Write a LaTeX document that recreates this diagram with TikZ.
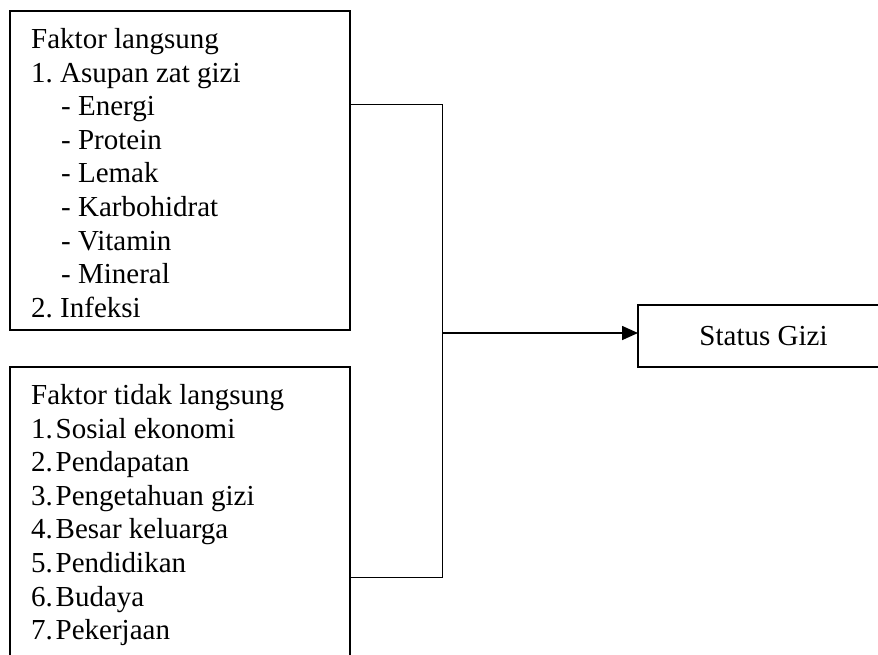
\documentclass[tikz,border=0pt]{standalone}
\usepackage{fontspec}
\setmainfont{Liberation Serif}
\usetikzlibrary{arrows.meta}
\tikzset{
	box/.style={draw,black,line width=1.8pt,inner sep=0pt,outer sep=0pt},
	txt/.style={inner sep=0pt,align=left,font=\fontsize{29}{33.6}\selectfont},
	edge/.style={draw,black,line width=.9pt},
	aedge/.style={draw,black,line width=1.6pt,-{Triangle[length=16pt,width=14pt]}}
}
\newcommand{\ind}{\hspace*{30pt}}
\newcommand{\num}[1]{\makebox[24.5pt][l]{#1}}

\begin{document}
\begin{tikzpicture}[x = {(1pt,0pt)},
                    y = {(0pt,-1pt)}]

\useasboundingbox[fill=white] (0,0) rectangle (878,654);

\coordinate (jt) at (442,104);
\coordinate (jm) at (442,333);
\coordinate (jb) at (442,577);

\node[box,anchor=north west,minimum width=340pt,minimum height=319pt] (fl) at (10,11) {};
\node[box,anchor=north west,minimum width=340pt,minimum height=330pt] (ftl) at (10,367) {};
\node[box,minimum width=251pt,minimum height=62pt] (sg) at (763.5,336) {};

\node[txt,anchor=north west] (fltext) at (31,28.2) {Faktor langsung\\
1.~Asupan zat gizi\\
\ind- Energi\\
\ind- Protein\\
\ind- Lemak\\
\ind- Karbohidrat\\
\ind- Vitamin\\
\ind- Mineral\\
2.~Infeksi};

\node[txt,anchor=north west] (ftltext) at (31,384.2) {Faktor tidak langsung\\
\num{1.}Sosial ekonomi\\
\num{2.}Pendapatan\\
\num{3.}Pengetahuan gizi\\
\num{4.}Besar keluarga\\
\num{5.}Pendidikan\\
\num{6.}Budaya\\
\num{7.}Pekerjaan};

\node[txt] (sgtext) at (sg.center) {Status Gizi};

\draw[edge] (fl.east |- jt) -- (jt) -- (jb) -- (ftl.east |- jb);
\draw[aedge] (jm) to (sg.west |- jm);

\end{tikzpicture}
\end{document}
